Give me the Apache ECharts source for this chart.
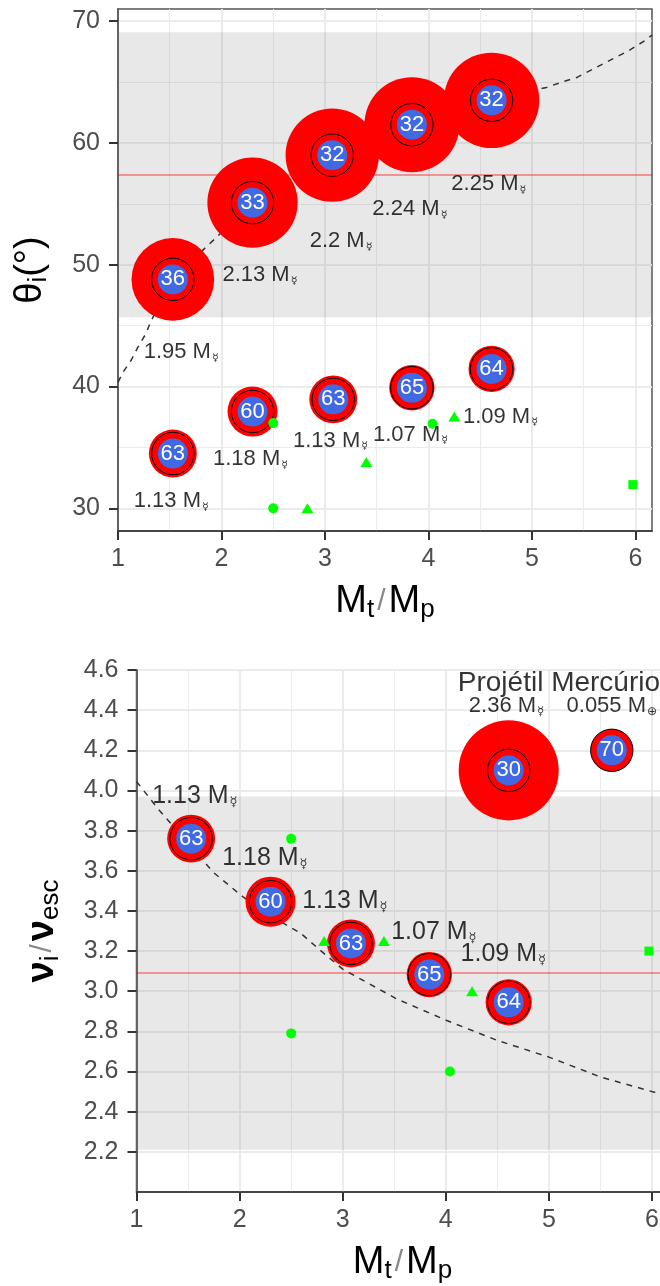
<!DOCTYPE html>
<html>
<head>
<meta charset="utf-8">
<script src="https://cdn.jsdelivr.net/npm/echarts@6/dist/echarts.min.js"></script>
<style>
html, body { margin: 0; padding: 0; background: #fff; }
#chart { width: 660px; height: 1286px; }
</style>
</head>
<body>
<div id="chart"></div>
<script>
var FONT = 'Liberation Sans, Arial, Helvetica, sans-serif'
var MERC_PX = 42.4 // diameter in px of a 1 M☿ disc

// axes
var xMajor = [1, 2, 3, 4, 5, 6]
var xMinor = [1.5, 2.5, 3.5, 4.5, 5.5]
var thetaMajor = [30, 40, 50, 60, 70]
var thetaMinor = [35, 45, 55, 65]
var velMajor = [2.2, 2.4, 2.6, 2.8, 3.0, 3.2, 3.4, 3.6, 3.8, 4.0, 4.2, 4.4, 4.6]

// top panel - impact angle
var bigX = [1.53, 2.30, 3.07, 3.84, 4.61]
var bigTheta = [48.8, 55.1, 59.0, 61.5, 63.5]
var bigMass = [1.95, 2.13, 2.2, 2.24, 2.25]
var bigId = [36, 33, 32, 32, 32]

var smallX = [1.53, 2.30, 3.08, 3.84, 4.61]
var smallTheta = [34.5, 37.95, 38.95, 39.9, 41.45]
var smallMass = [1.13, 1.18, 1.13, 1.07, 1.09]
var smallId = [63, 60, 63, 65, 64]

var thetaMean = 57.4
var thetaBand = [45.7, 69.1]
var thetaFitX = [1.0, 1.05, 1.13, 1.19, 1.27, 1.32, 1.53, 1.82, 1.92, 2.30, 3.07, 3.84, 4.61, 5.14, 5.29, 5.44, 5.62, 5.78, 5.94, 6.09, 6.16]
var thetaFitY = [40.35, 41.2, 42.2, 43.2, 44.35, 45.4, 48.8, 51.2, 52.0, 55.1, 58.9, 61.5, 63.5, 64.56, 65.0, 65.4, 66.2, 66.9, 67.6, 68.4, 68.85]

var topCircX = [2.5, 2.5, 4.04]
var topCircY = [37.0, 30.0, 36.95]
var topTriX = [2.83, 3.40, 4.25]
var topTriY = [30.0, 33.8, 37.55]
var topSqX = [5.975]
var topSqY = [31.95]

var topLabText = ['1.95', '2.13', '2.2', '2.24', '2.25', '1.13', '1.18', '1.13', '1.07', '1.09']
var topLabX = [1.248, 2.009, 2.852, 3.458, 4.221, 1.152, 1.918, 2.691, 3.464, 4.333]
var topLabY = [42.85, 49.18, 51.93, 54.57, 56.63, 30.57, 34.06, 35.57, 36.06, 37.54]

// bottom panel - impact velocity
var velX = [1.53, 2.30, 3.08, 3.84, 4.61]
var velY = [3.76, 3.446, 3.238, 3.083, 2.945]
var velMass = [1.13, 1.18, 1.13, 1.07, 1.09]
var velId = [63, 60, 63, 65, 64]

var projX = [4.61]
var projY = [4.10]
var projMass = [2.36]
var projId = [30]

var mercX = [5.61]
var mercY = [4.20]
var mercMass = [1]
var mercId = [70]

var velMean = 3.09
var velBand = [2.21, 3.97]
var velFitX = [1.0, 1.2, 1.5, 1.75, 2.04, 2.41, 2.59, 2.78, 3.0, 3.53, 4.01, 4.5, 5.0, 5.5, 6.07, 6.16]
var velFitY = [4.045, 3.914, 3.737, 3.59, 3.467, 3.343, 3.29, 3.205, 3.11, 2.96, 2.854, 2.755, 2.672, 2.573, 2.49, 2.475]

var botCircX = [2.5, 2.5, 4.04]
var botCircY = [3.76, 2.79, 2.6]
var botTriX = [2.82, 3.40, 4.255]
var botTriY = [3.25, 3.25, 3.0]
var botSqX = [5.97]
var botSqY = [3.2]

var botLabText = ['1.13', '1.18', '1.13', '1.07', '1.09']
var botLabX = [1.152, 1.831, 2.607, 3.47, 4.143]
var botLabY = [3.974, 3.663, 3.45, 3.293, 3.183]

var headTitle = 'Projétil Mercúrio'
var headTitleX = 4.116
var headTitleY = 4.535
var headMass = ['2.36', '0.055']
var headUnit = ['☿', '⊕']
var headX = [4.223, 5.171]
var headY = [4.419, 4.419]

function zip (xs, ys) {
  return xs.map(function (x, i) { return [x, ys[i]] })
}

var titleRich = {
  m: { fontSize: 38, color: '#000', fontFamily: FONT },
  n: { fontSize: 38, color: '#000', fontFamily: FONT, fontWeight: 'bold' },
  s: { fontSize: 26, color: '#000', fontFamily: FONT, padding: [16, 0, 0, 0] },
  sl: { fontSize: 30, color: '#888', fontFamily: FONT, padding: [0, 3, 0, 3] }
}

function massRich (size, subSize, drop) {
  return {
    a: { fontSize: size, color: '#000', fontFamily: FONT },
    s: { fontSize: subSize, color: '#000', fontFamily: 'DejaVu Sans', padding: [drop, 0, 0, 1] }
  }
}

function xAxes (gi) {
  return [
    {
      type: 'value', gridIndex: gi, min: 1, max: 6.16, position: 'bottom',
      axisLine: { show: true, onZero: false, lineStyle: { color: '#333', width: 1.5 } },
      axisTick: { show: true, length: 9, customValues: xMajor, lineStyle: { color: '#333', width: 2 } },
      axisLabel: { customValues: xMajor, fontSize: 25, color: '#4d4d4d', margin: 16, fontFamily: FONT },
      splitLine: { show: true, lineStyle: { color: '#ebebeb', width: 2 } },
      name: '{m|M}{s|t}{sl|/}{m|M}{s|p}',
      nameLocation: 'middle',
      nameGap: 50,
      nameTextStyle: { rich: titleRich },
      nameMoveOverlap: false
    },
    {
      type: 'value', gridIndex: gi, min: 1, max: 6.16, position: 'bottom',
      axisLine: { show: false },
      axisTick: { show: false, customValues: xMinor },
      axisLabel: { show: false },
      splitLine: { show: true, lineStyle: { color: '#ebebeb', width: 1 } }
    }
  ]
}

function yAxes (gi, min, max, major, minor, name, gap, fmt) {
  var axes = [{
    type: 'value', gridIndex: gi, min: min, max: max, position: 'left',
    axisLine: { show: true, onZero: false, lineStyle: { color: '#333', width: 1.5 } },
    axisTick: { show: true, length: 9, customValues: major, lineStyle: { color: '#333', width: 2 } },
    axisLabel: { customValues: major, fontSize: 25, color: '#4d4d4d', margin: 18, fontFamily: FONT, formatter: fmt },
    splitLine: { show: true, lineStyle: { color: '#ebebeb', width: 2 } },
    name: name,
    nameLocation: 'middle',
    nameGap: gap,
    nameTextStyle: { rich: titleRich },
    nameMoveOverlap: false
  }]
  axes.push({
    type: 'value', gridIndex: gi, min: min, max: max, position: 'left',
    axisLine: { show: false },
    axisTick: { show: false, customValues: minor.length ? minor : [min] },
    axisLabel: { show: false },
    splitLine: { show: minor.length > 0, lineStyle: { color: '#ebebeb', width: 1 } }
  })
  return axes
}

function panelBackground (gi, band, mean, fitX, fitY) {
  var ax = gi * 2
  return [
    {
      type: 'scatter', xAxisIndex: ax, yAxisIndex: ax, data: [], z: 1, silent: true,
      markArea: {
        silent: true,
        itemStyle: { color: 'rgba(128,128,128,0.18)' },
        data: [[{ yAxis: band[0] }, { yAxis: band[1] }]]
      }
    },
    {
      type: 'line', xAxisIndex: ax, yAxisIndex: ax, data: zip(fitX, fitY), z: 2,
      showSymbol: false, silent: true,
      lineStyle: { color: '#333', width: 1.5, type: [6, 6] },
      markLine: {
        silent: true, symbol: ['none', 'none'], label: { show: false },
        lineStyle: { color: 'rgba(255,0,0,0.5)', width: 1.5, type: 'solid' },
        data: [{ yAxis: mean }]
      }
    }
  ]
}

function bubbles (gi, xs, ys, ms, ids) {
  var ax = gi * 2
  var data = xs.map(function (x, i) { return [x, ys[i]] })
  return [
    {
      type: 'scatter', xAxisIndex: ax, yAxisIndex: ax, data: data, z: 3, silent: true,
      symbolSize: function (v, p) { return MERC_PX * ms[p.dataIndex] },
      itemStyle: { color: '#ff0000', opacity: 1 }
    },
    {
      type: 'scatter', xAxisIndex: ax, yAxisIndex: ax, data: data, z: 4, silent: true,
      symbolSize: MERC_PX,
      itemStyle: { color: 'rgba(0,0,0,0)', borderColor: '#000', borderWidth: 1, opacity: 1 }
    },
    {
      type: 'scatter', xAxisIndex: ax, yAxisIndex: ax, data: data, z: 5, silent: true,
      symbolSize: 30,
      itemStyle: { color: '#4169e1', opacity: 1 },
      label: {
        show: true, position: 'inside', color: '#fff', fontSize: 22, fontFamily: FONT,
        formatter: function (p) { return String(ids[p.dataIndex]) }
      }
    }
  ]
}

function greens (gi, cx, cy, tx, ty, sx, sy) {
  var ax = gi * 2
  var base = { type: 'scatter', xAxisIndex: ax, yAxisIndex: ax, z: 6, silent: true, itemStyle: { color: '#00ff00', opacity: 1 } }
  return [
    Object.assign({}, base, { data: zip(cx, cy), symbol: 'circle', symbolSize: 10 }),
    Object.assign({}, base, { data: zip(tx, ty), symbol: 'triangle', symbolSize: [12, 10] }),
    Object.assign({}, base, { data: zip(sx, sy), symbol: 'rect', symbolSize: 9 })
  ]
}

function massLabels (gi, xs, ys, texts, rich) {
  var ax = gi * 2
  return {
    type: 'scatter', xAxisIndex: ax, yAxisIndex: ax, data: zip(xs, ys), z: 7, silent: true,
    symbolSize: 0, itemStyle: { color: 'rgba(0,0,0,0)' },
    label: {
      show: true, position: 'right', distance: 0, rich: rich, color: '#000',
      formatter: function (p) { return '{a|' + texts[p.dataIndex] + ' M}{s|☿}' }
    }
  }
}

var series = []
series = series.concat(panelBackground(0, thetaBand, thetaMean, thetaFitX, thetaFitY))
series = series.concat(bubbles(0, bigX, bigTheta, bigMass, bigId))
series = series.concat(bubbles(0, smallX, smallTheta, smallMass, smallId))
series = series.concat(greens(0, topCircX, topCircY, topTriX, topTriY, topSqX, topSqY))
series.push(massLabels(0, topLabX, topLabY, topLabText, massRich(22, 11, 12)))

series = series.concat(panelBackground(1, velBand, velMean, velFitX, velFitY))
series = series.concat(bubbles(1, velX, velY, velMass, velId))
series = series.concat(bubbles(1, projX, projY, projMass, projId))
series = series.concat(bubbles(1, mercX, mercY, mercMass, mercId))
series = series.concat(greens(1, botCircX, botCircY, botTriX, botTriY, botSqX, botSqY))
series.push(massLabels(1, botLabX, botLabY, botLabText, massRich(25, 13, 13)))
series.push({
  type: 'scatter', xAxisIndex: 2, yAxisIndex: 2, data: [[headTitleX, headTitleY]], z: 7, silent: true,
  symbolSize: 0, itemStyle: { color: 'rgba(0,0,0,0)' },
  label: { show: true, position: 'right', distance: 0, color: '#000', fontSize: 28, fontFamily: FONT, formatter: headTitle }
})
series.push({
  type: 'scatter', xAxisIndex: 2, yAxisIndex: 2, data: zip(headX, headY), z: 7, silent: true,
  symbolSize: 0, itemStyle: { color: 'rgba(0,0,0,0)' },
  label: {
    show: true, position: 'right', distance: 0, rich: massRich(22, 12, 11), color: '#000',
    formatter: function (p) { return '{a|' + headMass[p.dataIndex] + ' M}{s|' + headUnit[p.dataIndex] + '}' }
  }
})

var option = {
  animation: false,
  backgroundColor: '#fff',
  textStyle: { fontFamily: FONT },
  grid: [
    { left: 118, top: 9, width: 534, height: 522, show: true, borderColor: '#555', borderWidth: 1.5, backgroundColor: 'rgba(0,0,0,0)', outerBoundsMode: 'none' },
    { left: 136.5, top: 670, width: 532, height: 522, show: true, borderColor: '#555', borderWidth: 1.5, backgroundColor: 'rgba(0,0,0,0)', outerBoundsMode: 'none' }
  ],
  xAxis: xAxes(0).concat(xAxes(1)),
  yAxis: yAxes(0, 28.14, 71, thetaMajor, thetaMinor, '{m|θ}{s|i}{m|(°)}', 66, function (v) { return String(v) })
    .concat(yAxes(1, 2.0, 4.6, velMajor, [], '{n|ν}{s|i}{sl|/}{n|ν}{s|esc}', 73, function (v) { return v.toFixed(1) })),
  series: series
}

var chart = echarts.init(document.getElementById('chart'))
chart.setOption(option)
</script>
</body>
</html>
